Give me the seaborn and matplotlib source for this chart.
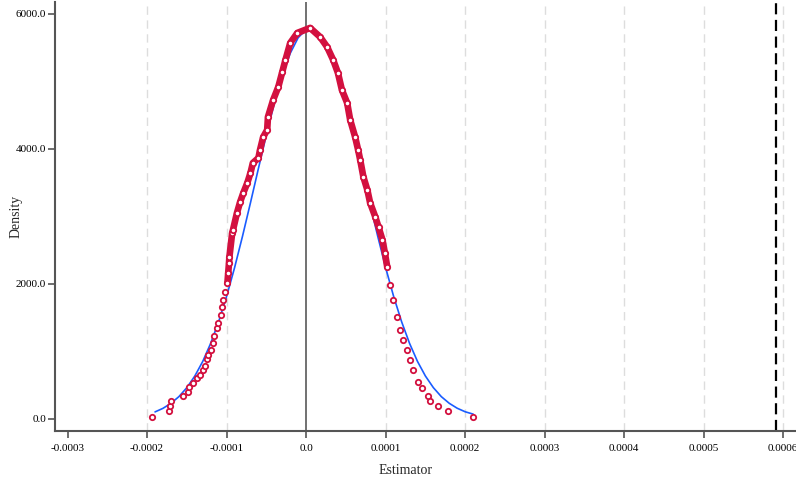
import numpy as np
import pandas as pd
import seaborn as sns
import matplotlib.pyplot as plt

# kernel density of placebo estimates (red circles)
red_x = [-0.000194, -0.000172, -0.000171, -0.000170, -0.000155, -0.000148, -0.000147,
         -0.000142, -0.000137, -0.000133, -0.000130, -0.000127, -0.000125, -0.000123,
         -0.000120, -0.000117, -0.000116, -0.000112, -0.000111, -0.000107, -0.000106,
         -0.000104, -0.000102, -0.000099, -0.000098, -0.000097, -0.0000965, -0.000093,
         -0.000092, -0.000087, -0.000083, -0.000079, -0.000074, -0.000070, -0.000067,
         -0.000060, -0.000058, -0.000054, -0.000049, -0.000048, -0.0000415, -0.000035,
         -0.000030, -0.000026, -0.000020, -0.000011, 0.000005, 0.0000176, 0.0000264,
         0.000034, 0.000040, 0.000045, 0.0000516, 0.0000554, 0.0000616, 0.0000654,
         0.000068, 0.000072, 0.000077, 0.0000805, 0.000087, 0.000091, 0.000096,
         0.000099, 0.000102, 0.000106, 0.000109, 0.0001145, 0.000118, 0.000122,
         0.000127, 0.000131, 0.0001346, 0.000141, 0.000146, 0.0001535, 0.000156,
         0.000166, 0.000179, 0.000210]
red_y = [30, 118, 193, 267, 341, 400, 474, 533, 607, 652, 726, 785, 889, 948,
         1022, 1126, 1229, 1348, 1422, 1540, 1659, 1762, 1881, 2014, 2162, 2310,
         2399, 2755, 2799, 3051, 3214, 3347, 3495, 3643, 3791, 3865, 3984, 4176,
         4280, 4473, 4724, 4917, 5139, 5317, 5568, 5717, 5791, 5657, 5509, 5317,
         5124, 4872, 4680, 4428, 4176, 3984, 3836, 3584, 3391, 3199, 2992, 2843,
         2651, 2458, 2251, 1985, 1762, 1511, 1318, 1170, 1022, 874, 726, 548,
         459, 341, 267, 193, 118, 30]

# normal density reference curve (blue)
blue_x = [-0.00019, -0.00018, -0.00017, -0.00016, -0.00015, -0.00014, -0.00013,
          -0.00012, -0.00011, -0.0001, -0.00009, -0.00008, -0.00007, -0.00006,
          -0.00005, -0.00004, -0.00003, -0.00002, -0.00001, 0.0, 0.00001, 0.00002,
          0.00003, 0.00004, 0.00005, 0.00006, 0.00007, 0.00008, 0.00009, 0.0001,
          0.00011, 0.00012, 0.00013, 0.00014, 0.00015, 0.00016, 0.00017, 0.00018,
          0.00019, 0.0002, 0.00021]
blue_y = [105, 158, 232, 331, 464, 636, 853, 1121, 1442, 1816, 2240, 2707, 3202,
          3710, 4208, 4675, 5084, 5415, 5647, 5767, 5767, 5647, 5415, 5084, 4675,
          4208, 3710, 3202, 2707, 2240, 1816, 1442, 1121, 853, 636, 464, 331, 232,
          159, 107, 72]

true_estimate = 0.000591

x_ticks = [-0.0003, -0.0002, -0.0001, 0.0, 0.0001, 0.0002, 0.0003, 0.0004, 0.0005, 0.0006]
x_labels = ["-0.0003", "-0.0002", "-0.0001", "0.0", "0.0001", "0.0002",
            "0.0003", "0.0004", "0.0005", "0.0006"]
y_ticks = [0, 2000, 4000, 6000]
y_labels = ["0.0", "2000.0", "4000.0", "6000.0"]

sns.set_style("white")
plt.rcParams["font.family"] = ["Liberation Serif", "DejaVu Serif"]

red_col = "#d3103f"
blue_col = "#1a5cff"

df_red = pd.DataFrame({"est": red_x, "dens": red_y})
df_blue = pd.DataFrame({"est": blue_x, "dens": blue_y})
core = df_red[df_red["dens"] > 2000]

fig = plt.figure(figsize=(7.96, 4.78), dpi=100)
ax = fig.add_axes([0.0691, 0.0983, 0.9299, 0.8977])

# grid + reference lines
ax.xaxis.grid(True, color="#dddddd", linestyle=(0, (6, 4)), linewidth=1.0)
ax.axvline(0, color="#666666", linewidth=1.3, zorder=1)
ax.axvline(true_estimate, color="black", linestyle=(0, (5, 2.5)), linewidth=1.6, zorder=1)

sns.lineplot(data=df_blue, x="est", y="dens", ax=ax, color=blue_col,
             linewidth=1.2, zorder=2, sort=False)
sns.lineplot(data=core, x="est", y="dens", ax=ax, color=red_col,
             linewidth=4.8, zorder=3, sort=False)
sns.scatterplot(data=df_red, x="est", y="dens", ax=ax, s=15, marker="o",
                facecolor="white", edgecolor=red_col, linewidth=1.3, zorder=4)

ax.set_xlim(-0.0003158, 0.000615)
ax.set_ylim(-178, 6176)
ax.set_xticks(x_ticks)
ax.set_xticklabels(x_labels, fontsize=8)
ax.set_yticks(y_ticks)
ax.set_yticklabels(y_labels, fontsize=8)
ax.get_xgridlines()[0].set_visible(False)
ax.get_xgridlines()[3].set_visible(False)

ax.set_xlabel("Estimator", fontsize=10)
ax.set_ylabel("Density", fontsize=10)
ax.xaxis.set_label_coords(0.473, -0.076)
ax.yaxis.set_label_coords(-0.044, 0.5)

for side in ["top", "right"]:
    ax.spines[side].set_visible(False)
for side in ["left", "bottom"]:
    ax.spines[side].set_color("#555555")
    ax.spines[side].set_linewidth(1.5)
ax.tick_params(axis="both", direction="out", length=5, width=1.2, color="#555555",
               labelcolor="black", bottom=True, left=True)
ax.tick_params(axis="x", pad=4.5)
ax.tick_params(axis="y", pad=1.5)

fig.savefig("out.png", dpi=100)
